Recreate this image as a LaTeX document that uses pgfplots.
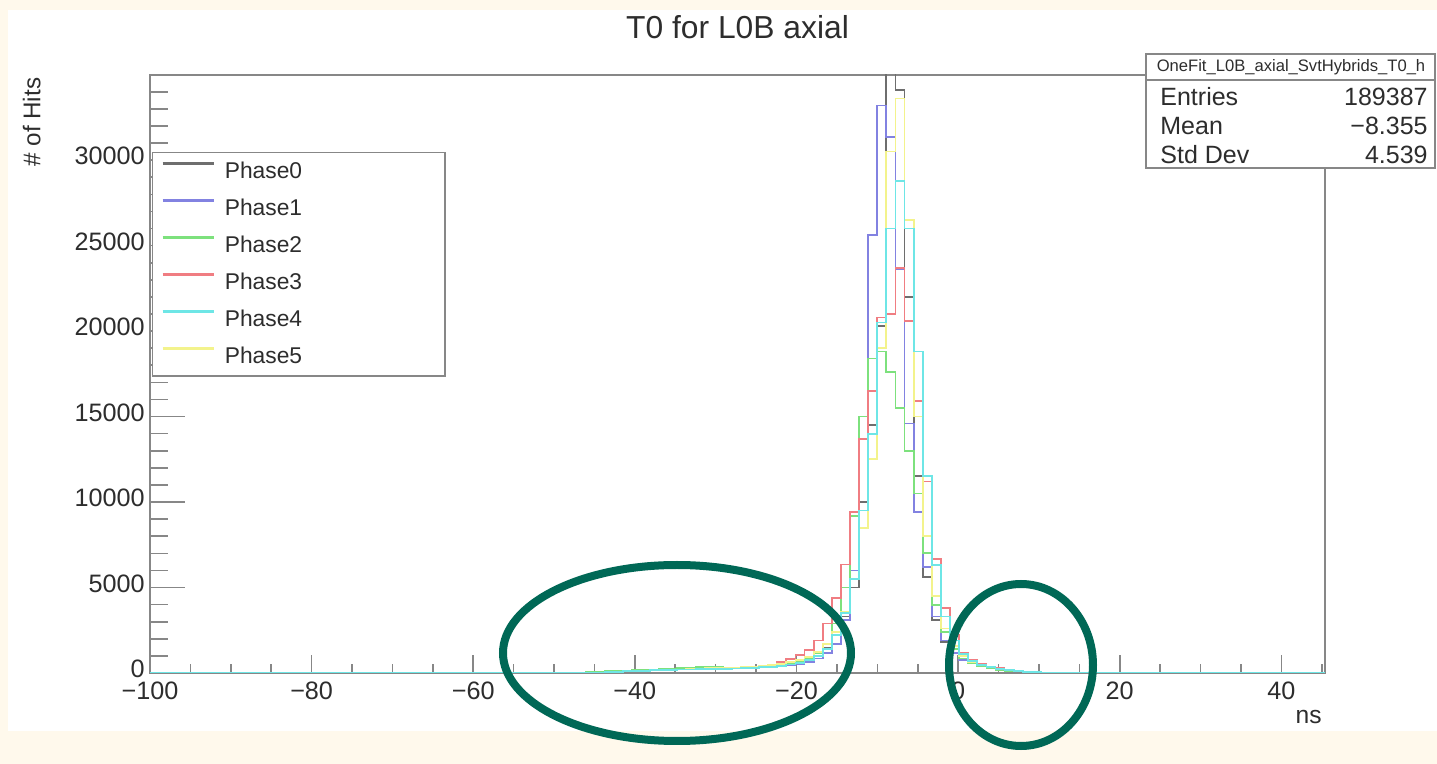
\documentclass[border=0pt]{standalone}
\usepackage{fontspec}
\setmainfont{Liberation Sans}
\usepackage{pgfplots}
\pgfplotsset{compat=1.18}
\usepackage{pgfplotstable}

\definecolor{framegray}{RGB}{135,135,135}
\definecolor{txt}{RGB}{45,45,45}
\definecolor{phzero}{RGB}{110,110,110}
\definecolor{phone}{RGB}{130,130,225}
\definecolor{phtwo}{RGB}{125,225,125}
\definecolor{phthree}{RGB}{240,125,130}
\definecolor{phfour}{RGB}{110,230,230}
\definecolor{phfive}{RGB}{243,243,140}
\definecolor{cream}{RGB}{255,249,236}
\definecolor{ringteal}{RGB}{0,104,86}

% T0 histograms, bin width 1.125 ns; x = lower bin edge
\pgfplotstableread{
x        p0     p1     p2     p3     p4     p5
-100     0      0      0      0      0      0
-48.25   0      0      0      0      0      0
-47.125  10     0      20     0      0      0
-46.0    30     10     60     10     0      10
-44.875  50     40     90     30     10     30
-43.75   70     80     110    50     40     50
-42.625  90     110    120    70     70     70
-41.5    110    130    140    90     100    90
-40.375  130    160    160    110    120    110
-39.25   150    180    180    130    140    130
-38.125  170    200    200    150    160    150
-37.0    180    220    230    170    180    170
-35.875  200    240    250    190    190    190
-34.75   210    250    270    200    200    210
-33.625  220    260    300    220    210    230
-32.5    240    270    330    230    220    250
-31.375  250    280    340    240    230    270
-30.25   260    290    330    250    240    290
-29.125  270    290    320    270    250    300
-28.0    280    300    320    290    260    310
-26.875  300    310    330    320    280    330
-25.75   320    320    350    360    300    360
-24.625  340    330    380    420    330    400
-23.5    380    360    420    500    370    450
-22.375  430    400    480    620    430    520
-21.25   500    460    560    800    500    620
-20.125  600    540    680    1050   600    760
-19.0    750    650    850    1350   750    950
-17.875  1000   850    1150   1900   1000   1250
-16.75   1450   1150   1700   2900   1400   1700
-15.625  2200   1700   2900   4400   2200   2400
-14.5    3300   3100   5000   6350   3500   3600
-13.375  5000   6000   9200   9400   5500   5500
-12.25   10000  13700  15000  13700  9500   8500
-11.125  14500  25600  18400  16500  14000  12500
-10.0    20300  33200  18800  20800  20500  19000
-8.875   36500  31350  17600  21000  26000  30500
-7.75    34100  23600  15500  23700  28800  33600
-6.625   22000  14600  13000  20600  26000  26500
-5.5     11500  9400   10500  15900  18800  15000
-4.375   5600   6200   7000   11200  11500  8000
-3.25    3100   3300   4000   6650   6300   4500
-2.125   1800   1900   2400   3800   3300   2600
-1.0     1200   1150   1400   2200   1900   1600
0.125    800    780    850    1200   1100   1000
1.25     600    560    550    750    700    650
2.375    450    420    380    520    480    450
3.5      330    320    270    380    340    320
4.625    250    240    190    280    240    230
5.75     180    180    130    200    170    160
6.875    130    130    90     140    120    110
8.0      90     90     55     90     80     70
9.125    60     55     30     50     45     40
10.25    30     25     10     20     15     20
11.375   10     8      0      0      0      5
12.5     0      0      0      0      0      0
45.4     0      0      0      0      0      0
}\tzero

\begin{document}
\begin{tikzpicture}
\begin{scope}[x=0.5pt,y=-0.5pt]
  \useasboundingbox (0,0) rectangle (1437,764);
  \fill[cream] (0,0) rectangle (1437,764);
  \fill[white] (8,10) rectangle (1437,731);
\end{scope}

\begin{axis}[
  at={(75pt,-336.5pt)}, anchor=south west,
  scale only axis, width=587.5pt, height=299pt,
  xmin=-100, xmax=45.4, ymin=0, ymax=34980,
  xtick={-100,-80,...,40},
  xticklabels={−100,−80,−60,−40,−20,0,20,40},
  minor xtick={-95,-90,...,45},
  ytick={0,5000,...,30000},
  yticklabels={0,5000,10000,15000,20000,25000,30000},
  minor ytick={1000,2000,...,34000},
  scaled y ticks=false,
  tick pos=left, tick align=inside,
  axis line style={draw=framegray, line width=0.8pt},
  tick style={framegray, line width=0.8pt},
  xtick style={/pgfplots/major tick length=9pt, /pgfplots/minor tick length=4.5pt},
  ytick style={/pgfplots/major tick length=17.5pt, /pgfplots/minor tick length=8.8pt},
  xticklabel style={font=\fontsize{12.6}{15}\selectfont, text=txt, anchor=north, inner sep=0pt, yshift=-4.5pt},
  yticklabel style={font=\fontsize{12.6}{15}\selectfont, text=txt, anchor=east, inner sep=0pt, xshift=-2.5pt, yshift=2pt},
  title={T0 for L0B axial},
  title style={at={(axis description cs:0.5,1)}, anchor=center, inner sep=0pt, yshift=18pt,
    font=\fontsize{15.9}{19}\selectfont, text=txt},
  xlabel={ns},
  xlabel style={at={(axis description cs:1,0)}, anchor=east, inner sep=0pt, yshift=-22pt, xshift=-1.5pt,
    font=\fontsize{12.3}{15}\selectfont, text=txt},
  ylabel={\# of Hits},
  ylabel style={at={(axis description cs:-0.1007,0.996)}, anchor=east, inner sep=0pt,
    font=\fontsize{12.1}{15}\selectfont, text=txt},
  legend cell align=left,
  legend image code/.code={\draw[#1] (0pt,4.1pt) -- (25.5pt,4.1pt);},
  legend style={at={(axis description cs:0.0014,0.8717)}, anchor=north west,
    draw=framegray, line width=0.8pt, fill=white,
    inner xsep=4.5pt, inner ysep=0.3pt, row sep=0pt, column sep=5pt,
    font=\fontsize{11.4}{13.7}\selectfont, text=txt,
    nodes={inner sep=0pt, minimum height=18.5pt}},
]
\addlegendimage{phzero, line width=1.2pt}\addlegendentry{\makebox[105.5pt][l]{Phase0}}
\addlegendimage{phone, line width=1.2pt}\addlegendentry{\makebox[105.5pt][l]{Phase1}}
\addlegendimage{phtwo, line width=1.2pt}\addlegendentry{\makebox[105.5pt][l]{Phase2}}
\addlegendimage{phthree, line width=1.2pt}\addlegendentry{\makebox[105.5pt][l]{Phase3}}
\addlegendimage{phfour, line width=1.2pt}\addlegendentry{\makebox[105.5pt][l]{Phase4}}
\addlegendimage{phfive, line width=1.2pt}\addlegendentry{\makebox[105.5pt][l]{Phase5}}

\addplot[const plot, phzero,  line width=0.9pt, forget plot] table[x=x, y=p0] {\tzero};
\addplot[const plot, phone,   line width=0.9pt, forget plot] table[x=x, y=p1] {\tzero};
\addplot[const plot, phtwo,   line width=0.9pt, forget plot] table[x=x, y=p2] {\tzero};
\addplot[const plot, phthree, line width=0.9pt, forget plot] table[x=x, y=p3] {\tzero};
\addplot[const plot, phfive,  line width=0.9pt, forget plot] table[x=x, y=p5] {\tzero};
\addplot[const plot, phfour,  line width=0.9pt, forget plot] table[x=x, y=p4] {\tzero};
\end{axis}

\begin{scope}[x=0.5pt,y=-0.5pt]
  % statistics box
  \draw[framegray, line width=0.8pt, fill=white] (1146,54) rectangle (1435,168);
  \draw[framegray, line width=0.8pt] (1146,80) -- (1435,80);
  \node[font=\fontsize{8.3}{10}\selectfont, text=txt] at (1291,67) {OneFit\_L0B\_axial\_SvtHybrids\_T0\_h};
  \node[anchor=west, inner sep=0pt, font=\fontsize{12.5}{15}\selectfont, text=txt] at (1160,97) {Entries};
  \node[anchor=east, inner sep=0pt, font=\fontsize{12.5}{15}\selectfont, text=txt] at (1428,97) {189387};
  \node[anchor=west, inner sep=0pt, font=\fontsize{12.5}{15}\selectfont, text=txt] at (1160,126) {Mean};
  \node[anchor=east, inner sep=0pt, font=\fontsize{12.5}{15}\selectfont, text=txt] at (1428,126) {−8.355};
  \node[anchor=west, inner sep=0pt, font=\fontsize{12.5}{15}\selectfont, text=txt] at (1160,155) {Std Dev};
  \node[anchor=east, inner sep=0pt, font=\fontsize{12.5}{15}\selectfont, text=txt] at (1428,155) {4.539};
  % highlighted tails
  \draw[ringteal, line width=4pt] (677,653) ellipse [x radius=174, y radius=88];
  \draw[ringteal, line width=4pt] (1021,665) ellipse [x radius=72, y radius=81];
\end{scope}
\end{tikzpicture}
\end{document}
